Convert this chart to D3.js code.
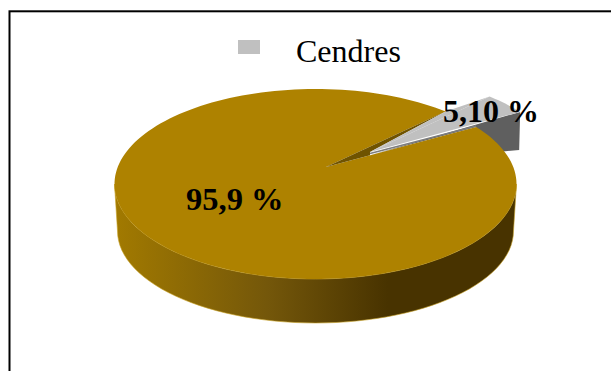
<!DOCTYPE html>
<html><head><meta charset="utf-8">
<script src="https://cdnjs.cloudflare.com/ajax/libs/d3/7.8.5/d3.min.js"></script>
<style>html,body{margin:0;padding:0;background:#fff}svg{display:block}text{font-family:"Liberation Serif",serif;fill:#000}</style>
</head><body><svg id="c" width="611" height="371"></svg>
<script>
const categories = ["Autres", "Cendres"];
const values = [95.9, 5.10];
const valueLabels = ["95,9 %", "5,10 %"];
const legendItems = ["Cendres"];

const svg = d3.select("#c");
const ellipse = {cx:315.5, cy:184, rx:201, ry:95};
const base = {cx:315.5, cy:231, rx:198, ry:92};
const apex = {x:326, y:167};
const explode = {x:44, y:-15};
const sliceMidDeg = -43.3, squeeze = 0.7, grayDepth = 38;
const TOP = "#ae8200", INNER = "#6f5300", GRAY = "#c0c0c0", GRAYSIDE = "#5f5f5f";

const arcs = d3.pie().sort(null).value(d => d)(values);
const spanDeg = (arcs[1].endAngle - arcs[1].startAngle) * 180 / Math.PI * squeeze;
const a0 = (sliceMidDeg - spanDeg / 2) * Math.PI / 180;
const a1 = (sliceMidDeg + spanDeg / 2) * Math.PI / 180;
const pt = (t, dx = 0, dy = 0, e = ellipse) => [e.cx + e.rx * Math.cos(t) + dx, e.cy + e.ry * Math.sin(t) + dy];
const A = pt(a0), B = pt(a1);

const defs = svg.append("defs");
const wall = defs.append("linearGradient").attr("id","wall").attr("gradientUnits","userSpaceOnUse")
  .attr("x1", ellipse.cx - ellipse.rx).attr("x2", ellipse.cx + ellipse.rx).attr("y1",0).attr("y2",0);
[[0,"#a27a00"],[0.38,"#74570a"],[0.68,"#483300"],[1,"#483300"]].forEach(s => wall.append("stop").attr("offset",s[0]).attr("stop-color",s[1]));

// frame
svg.append("rect").attr("x",9.5).attr("y",11.3).attr("width",640).attr("height",400)
  .attr("fill","#fff").attr("stroke","#000").attr("stroke-width",2);

const arcLine = (t0, t1, dx = 0, dy = 0, n = 60, e = ellipse) => d3.range(n + 1).map(i => pt(t0 + (t1 - t0) * i / n, dx, dy, e));
const line = d3.line();

// exploded slice: side wall
const gA = pt(a0, explode.x, explode.y), gB = pt(a1, explode.x, explode.y);
const gApex = [apex.x + explode.x, apex.y + explode.y];
const under = [gApex[0], apex.y + (B[1] - apex.y) * (gApex[0] - apex.x) / (B[0] - apex.x)];
svg.append("path").attr("fill",GRAYSIDE)
  .attr("d", line([under, gB, [gB[0] - 1, gB[1] + grayDepth], [gB[0] - 40, gB[1] + grayDepth + 4], B]) + "Z");

// main slice wall
const lower = arcLine(0, Math.PI);
const lowerOff = arcLine(Math.PI, 0, 0, 0, 60, base);
svg.append("path").attr("fill","url(#wall)").attr("stroke","#c9a227").attr("stroke-width",0.6)
  .attr("d", line(lower.concat(lowerOff)) + "Z");

// main slice top
const topPts = [[apex.x, apex.y]].concat(arcLine(a1, a0 + 2 * Math.PI, 0, 0, 180));
svg.append("path").attr("fill",TOP).attr("d", line(topPts) + "Z");

// inner notch face
svg.append("path").attr("fill",INNER).attr("d", line([[apex.x, apex.y], A, gApex, under]) + "Z");

// exploded slice: top and its light edge
svg.append("path").attr("fill",GRAY).attr("d", line([gApex].concat(arcLine(a0, a1, explode.x, explode.y, 12))) + "Z");
svg.append("path").attr("fill",GRAY).attr("d", line([gApex, A, gA]) + "Z");
svg.append("path").attr("fill","none").attr("stroke","#7d7d7d").attr("stroke-width",1.5)
  .attr("d", line([[gApex[0], gApex[1] + 1.5], [B[0], B[1] - 1]]));

// legend
svg.append("rect").attr("x",238).attr("y",40).attr("width",22).attr("height",14).attr("fill",GRAY);
svg.append("text").attr("x",296).attr("y",62).attr("font-size",32).text(legendItems[0]);

// value labels
svg.append("text").attr("x",186).attr("y",210).attr("font-size",32.5).attr("font-weight","bold").text(valueLabels[0]);
svg.append("text").attr("x",443).attr("y",122).attr("font-size",32).attr("font-weight","bold").text(valueLabels[1]);
</script></body></html>
